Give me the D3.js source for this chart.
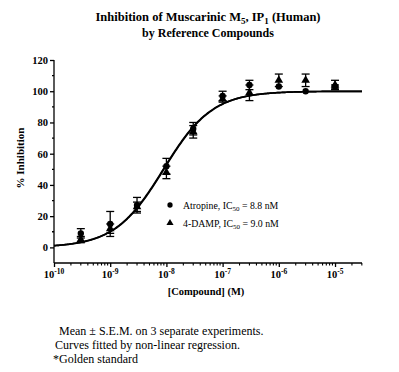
<!DOCTYPE html>
<html>
<head>
<meta charset="utf-8">
<script src="https://cdn.jsdelivr.net/npm/d3@7"></script>
<style>
body { margin: 0; background: #fff; }
text { font-family: "Liberation Serif", "DejaVu Serif", serif; }
</style>
</head>
<body>
<svg id="graph" width="399" height="372"></svg>
<script>
// concentrations (M)
const concentrations = [3e-10, 1e-9, 3e-9, 1e-8, 3e-8, 1e-7, 3e-7, 1e-6, 3e-6, 1e-5];
const atropineMean = [9, 15, 27, 52, 76, 97, 104, 103, 100, 103];
const atropineSem = [3, 8, 5, 5, 4, 3, 3, 0, 0, 1];
const dampMean = [5, 12, 26, 48, 74, 95, 99, 107, 107, 104];
const dampSem = [2, 3, 3, 4, 4, 2, 5, 4, 4, 3];
// fitted curves (four-parameter logistic)
const atropineFit = { bottom: 0, top: 100, ic50: 8.8e-9, hill: 1 };
const dampFit = { bottom: 0, top: 100, ic50: 9.0e-9, hill: 1 };
const xTicks = [-10, -9, -8, -7, -6, -5];
const yTicks = [0, 20, 40, 60, 80, 100, 120];

const serif = '"Liberation Serif", "DejaVu Serif", serif';
const svg = d3.select('#graph').attr('font-family', serif);
const plotL = 54, plotR = 362, plotT = 60, plotB = 263;

const x = d3.scaleLog().domain([1e-10, Math.pow(10, -4.52)]).range([plotL, plotR]);
const y = d3.scaleLinear().domain([-10, 120]).range([plotB, plotT]);

// title
const title = svg.append('text')
    .attr('x', 208).attr('y', 21)
    .attr('text-anchor', 'middle')
    .attr('font-family', serif)
    .attr('font-weight', 'bold')
    .attr('font-size', 12.5);
title.append('tspan').text('Inhibition of  Muscarinic M');
title.append('tspan').attr('font-size', 9).attr('dy', 3).text('5');
title.append('tspan').attr('dy', -3).text(', IP');
title.append('tspan').attr('font-size', 9).attr('dy', 3).text('1');
title.append('tspan').attr('dy', -3).text(' (Human)');
svg.append('text')
    .attr('x', 208).attr('y', 37)
    .attr('text-anchor', 'middle')
    .attr('font-family', serif)
    .attr('font-weight', 'bold')
    .attr('font-size', 12)
    .text('by Reference Compounds');

// y axis
const yAxis = svg.append('g')
    .attr('transform', `translate(${plotL},0)`)
    .call(d3.axisLeft(y).tickValues(yTicks).tickSize(4).tickSizeOuter(0).tickPadding(2));
yAxis.attr('font-family', serif);
yAxis.select('.domain').attr('d', `M0,${plotB}V${plotT}`);
yAxis.selectAll('text').attr('font-size', 10.5).attr('font-weight', 'bold')
    .attr('font-family', serif);
yAxis.selectAll('path, line').attr('stroke-width', 1.3);
svg.append('g')
    .attr('transform', `translate(${plotL},0)`)
    .selectAll('line')
    .data(d3.range(-10, 121, 20).filter(v => v > -10))
    .enter().append('line')
    .attr('x1', -2).attr('x2', 0)
    .attr('y1', d => y(d)).attr('y2', d => y(d))
    .attr('stroke', '#000').attr('stroke-width', 1.3);

// x axis
const xAxis = svg.append('g')
    .attr('transform', `translate(0,${plotB})`)
    .call(d3.axisBottom(x).tickValues(xTicks.map(p => Math.pow(10, p))).tickSize(4).tickSizeOuter(0).tickFormat(''));
xAxis.select('.domain').attr('d', `M${plotL},0H${plotR}`);
xAxis.selectAll('path, line').attr('stroke-width', 1.3);
const minor = [];
for (let p = -10; p < -4; p++) {
    for (let m = 2; m <= 9; m++) {
        const v = m * Math.pow(10, p);
        if (v <= x.domain()[1]) minor.push(v);
    }
}
svg.append('g').selectAll('line')
    .data(minor).enter().append('line')
    .attr('x1', d => x(d)).attr('x2', d => x(d))
    .attr('y1', plotB).attr('y2', plotB + 2.5)
    .attr('stroke', '#000').attr('stroke-width', 1.1);
const xl = svg.append('g').selectAll('text')
    .data(xTicks).enter().append('text')
    .attr('x', d => x(Math.pow(10, d)))
    .attr('y', plotB + 15)
    .attr('text-anchor', 'middle')
    .attr('font-family', serif)
    .attr('font-weight', 'bold')
    .attr('font-size', 10.5);
xl.append('tspan').text('10');
xl.append('tspan').attr('font-size', 7.5).attr('dy', -4.5).text(d => '-' + (-d));

// axis titles
svg.append('text')
    .attr('transform', `translate(24,158) rotate(-90)`)
    .attr('text-anchor', 'middle')
    .attr('font-family', serif)
    .attr('font-weight', 'bold')
    .attr('font-size', 11)
    .text('% Inhibition');
svg.append('text')
    .attr('x', 206).attr('y', 295)
    .attr('text-anchor', 'middle')
    .attr('font-family', serif)
    .attr('font-weight', 'bold')
    .attr('font-size', 10.5)
    .text('[Compound] (M)');

// fitted curves
function hillCurve(p) {
    return d3.range(-10, -4.52 + 0.001, 0.02).map(l => {
        const c = Math.pow(10, l);
        return [c, p.bottom + (p.top - p.bottom) / (1 + Math.pow(p.ic50 / c, p.hill))];
    });
}
const line = d3.line().x(d => x(d[0])).y(d => y(d[1])).curve(d3.curveMonotoneX);
[atropineFit, dampFit].forEach(p => {
    svg.append('path')
        .attr('d', line(hillCurve(p)))
        .attr('fill', 'none')
        .attr('stroke', '#000')
        .attr('stroke-width', 1.7);
});

// error bars and markers
function drawSeries(means, sems, symbol) {
    const g = svg.append('g');
    concentrations.forEach((c, i) => {
        const cx = x(c), m = means[i], s = sems[i];
        if (s > 0) {
            g.append('line').attr('x1', cx).attr('x2', cx)
                .attr('y1', y(m - s)).attr('y2', y(m + s))
                .attr('stroke', '#000').attr('stroke-width', 1.3);
            [m - s, m + s].forEach(v => {
                g.append('line').attr('x1', cx - 4).attr('x2', cx + 4)
                    .attr('y1', y(v)).attr('y2', y(v))
                    .attr('stroke', '#000').attr('stroke-width', 1.3);
            });
        }
    });
    g.selectAll('path.mk').data(concentrations).enter().append('path')
        .attr('class', 'mk')
        .attr('transform', (d, i) => `translate(${x(d)},${y(means[i])})`)
        .attr('d', d3.symbol().type(symbol).size(32))
        .attr('fill', '#000');
}
drawSeries(atropineMean, atropineSem, d3.symbolCircle);
drawSeries(dampMean, dampSem, d3.symbolTriangle);

// legend
const legend = [
    { symbol: d3.symbolCircle, name: 'Atropine, IC', value: ' = 8.8 nM' },
    { symbol: d3.symbolTriangle, name: '4-DAMP, IC', value: ' = 9.0 nM' }
];
legend.forEach((d, i) => {
    const ly = 205 + i * 18;
    svg.append('path')
        .attr('transform', `translate(170,${ly})`)
        .attr('d', d3.symbol().type(d.symbol).size(22))
        .attr('fill', '#000');
    const t = svg.append('text').attr('x', 183).attr('y', ly + 3.5)
        .attr('font-family', serif).attr('font-size', 9.8);
    t.append('tspan').text(d.name);
    t.append('tspan').attr('font-size', 7).attr('dy', 2).text('50');
    t.append('tspan').attr('dy', -2).text(d.value);
});

// footnotes
const notes = [
    { x: 59, y: 335, text: 'Mean \u00b1  S.E.M. on 3 separate experiments.' },
    { x: 55, y: 349, text: 'Curves fitted by non-linear regression.' },
    { x: 53, y: 363, text: '*Golden standard' }
];
svg.selectAll('text.note').data(notes).enter().append('text')
    .attr('class', 'note')
    .attr('x', d => d.x).attr('y', d => d.y)
    .attr('font-family', serif)
    .attr('font-size', 12)
    .text(d => d.text);
</script>
</body>
</html>
